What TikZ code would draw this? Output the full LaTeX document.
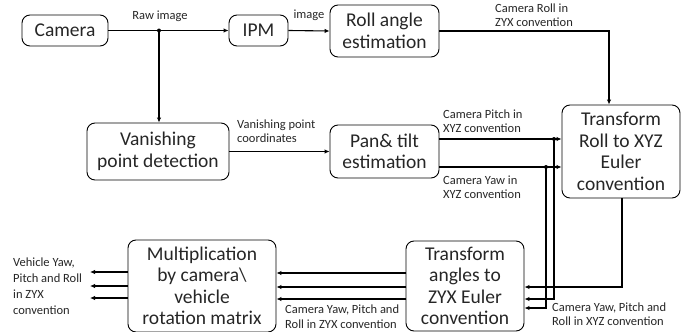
\documentclass[tikz,border=0pt]{standalone}
\usepackage{fontspec}
\setmainfont{Carlito}
\usetikzlibrary{arrows.meta}
\begin{document}
\begin{tikzpicture}[x=1pt,y=-1pt,
  box/.style={draw, line width=0.9pt, rounded corners=8pt, align=center, inner sep=0pt,
    font=\fontsize{19.5}{21.5}\selectfont, text=black!85},
  lbl/.style={font=\fontsize{12.5}{14.5}\selectfont, align=left, inner sep=0pt, anchor=west, text=black!85},
  conn/.style={line width=1.1pt, -{Latex[length=5pt,width=4.5pt]}},
  wire/.style={line width=1.1pt},
  dot/.style={circle, fill=black, inner sep=0pt, minimum size=4pt}]
\useasboundingbox (0,0) rectangle (683,332);
\node[box, minimum width=86pt, minimum height=31pt] (cam) at (65,30.5) {Camera};
\node[box, minimum width=59pt, minimum height=31pt] (ipm) at (258.5,30.5) {IPM};
\node[box, minimum width=109pt, minimum height=52pt] (roll) at (384.5,31) {Roll angle\\estimation};
\node[box, minimum width=142pt, minimum height=57pt] (van) at (158,151.5) {Vanishing\\point detection};
\node[box, minimum width=109pt, minimum height=53pt] (pan) at (384.5,151.5) {Pan\& tilt\\estimation};
\node[box, minimum width=118pt, minimum height=93pt] (tr) at (621,151.5) {Transform\\Roll to XYZ\\Euler\\convention};
\node[box, minimum width=118pt, minimum height=90pt] (ta) at (465,286) {Transform\\angles to\\ZYX Euler\\convention};
\node[box, minimum width=148pt, minimum height=92pt] (mul) at (202,286) {Multiplication\\by camera\textbackslash\\vehicle\\rotation matrix};

% camera -> ipm, with branch down to vanishing point detection
\coordinate (j1) at (159,30.5);
\draw[conn] (cam.east) -- (ipm.west);
\node[dot] (d1) at (j1) {};
\draw[conn] (d1.center) -- (d1.center |- van.north);
\draw[conn] (ipm.east) -- (roll.west);
% roll -> transform roll
\coordinate (rc) at (609,31);
\draw[conn] (roll.east) -- (rc) -- (rc |- tr.north);
% vanishing -> pan
\draw[conn] (van.east) -- (pan.west);
% pitch and yaw
\coordinate (p0) at (439,139);
\coordinate (y0) at (439,167);
\draw[conn] (p0) -- (p0 -| tr.west);
\draw[conn] (y0) -- (y0 -| tr.west);
\node[dot] (dp) at (554,139) {};
\node[dot] (dy) at (546,167) {};
% to transform angles
\coordinate (r1) at (622,287);
\coordinate (r2) at (554,299);
\coordinate (r3) at (546,308);
\draw[conn] (r1 |- tr.south) -- (r1) -- (r1 -| ta.east);
\draw[conn] (dp.center) -- (r2) -- (r2 -| ta.east);
\draw[conn] (dy.center) -- (r3) -- (r3 -| ta.east);
% ta -> mul
\foreach \yy in {273,287,299}{
  \draw[conn] (ta.east |- 0,\yy) ++(-118,0) -- (mul.east |- 0,\yy);
}
% mul -> outputs
\coordinate (o1) at (90,272);
\coordinate (o2) at (90,286);
\coordinate (o3) at (90,298);
\draw[conn] (o1 -| mul.west) -- (o1);
\draw[conn] (o2 -| mul.west) -- (o2);
\draw[conn] (o3 -| mul.west) -- (o3);

% labels
\node[lbl, anchor=center] (l1) at (160,16) {Raw image};
\node[lbl, anchor=center] (l2) at (309,15) {image};
\node[lbl] (l3) at (495,15) {Camera Roll in\\ZYX convention};
\node[lbl] (l4) at (237,131) {Vanishing point\\coordinates};
\node[lbl] (l5) at (443,121) {Camera Pitch in\\XYZ convention};
\node[lbl] (l6) at (443,187) {Camera Yaw in\\XYZ convention};
\node[lbl] (l7) at (552,314) {Camera Yaw, Pitch and\\Roll in XYZ convention};
\node[lbl] (l8) at (285,316.5) {Camera Yaw, Pitch and\\Roll in ZYX convention};
\node[lbl, font=\fontsize{12.5}{16}\selectfont] (l9) at (13,286) {Vehicle Yaw,\\Pitch and Roll\\in ZYX\\convention};
\end{tikzpicture}
\end{document}
